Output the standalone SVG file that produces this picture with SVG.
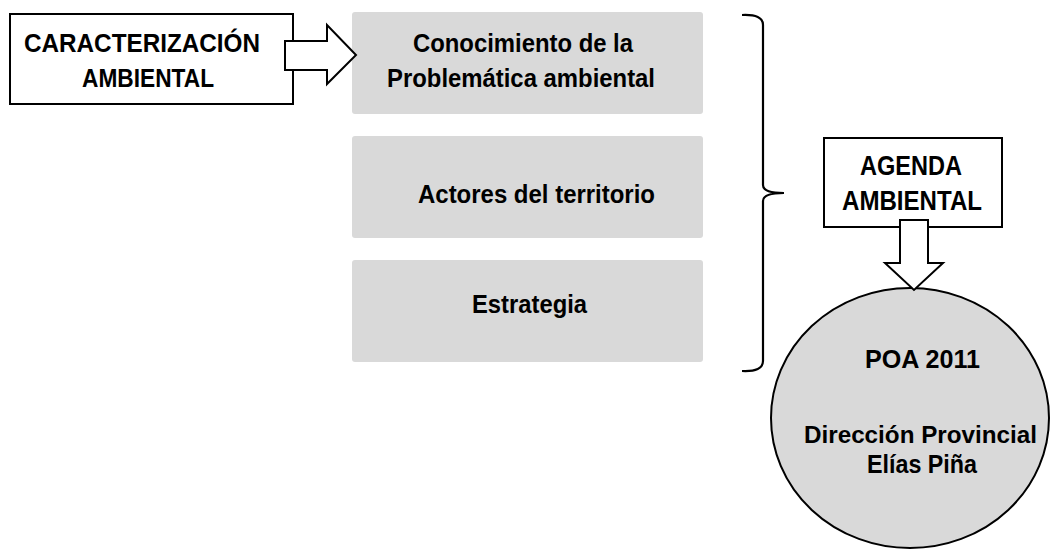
<svg xmlns="http://www.w3.org/2000/svg" width="1050" height="549" viewBox="0 0 1050 549">
<style>
.t{font-family:"Liberation Sans",Arial,sans-serif;font-weight:bold;font-size:26.5px;fill:#000}
.wbox{fill:#fff;stroke:#000;stroke-width:2}
.gbox{fill:#d9d9d9;stroke:none}
.arr{fill:#fff;stroke:#000;stroke-width:2;stroke-linejoin:miter}
</style>
<rect width="1050" height="549" fill="#fff"/>
<g id="caracterizacion">
<rect class="wbox" x="10" y="14" width="283" height="90"/>
<text class="t" x="24" y="52" textLength="236" lengthAdjust="spacingAndGlyphs">CARACTERIZACIÓN</text>
<text class="t" x="82" y="87" textLength="132" lengthAdjust="spacingAndGlyphs">AMBIENTAL</text>
</g>
<g id="conocimiento">
<rect class="gbox" x="352" y="12" width="351" height="102" rx="3"/>
<text class="t" x="413" y="52" textLength="220" lengthAdjust="spacingAndGlyphs">Conocimiento de la</text>
<text class="t" x="387" y="87" textLength="268" lengthAdjust="spacingAndGlyphs">Problemática ambiental</text>
</g>
<g id="actores">
<rect class="gbox" x="352" y="136" width="351" height="102" rx="3"/>
<text class="t" x="418" y="203" textLength="237" lengthAdjust="spacingAndGlyphs">Actores del territorio</text>
</g>
<g id="estrategia">
<rect class="gbox" x="352" y="260" width="351" height="102" rx="3"/>
<text class="t" x="472" y="313" textLength="115" lengthAdjust="spacingAndGlyphs">Estrategia</text>
</g>
<g id="agenda">
<rect class="wbox" x="824" y="138" width="178" height="89"/>
<text class="t" x="860" y="175" textLength="102" lengthAdjust="spacingAndGlyphs" style="font-size:28px">AGENDA</text>
<text class="t" x="842" y="210" textLength="140" lengthAdjust="spacingAndGlyphs" style="font-size:28px">AMBIENTAL</text>
</g>
<g id="poa">
<ellipse cx="910" cy="418" rx="139" ry="130" fill="#d9d9d9" stroke="#000" stroke-width="2"/>
<text class="t" x="865" y="368" textLength="115" lengthAdjust="spacingAndGlyphs">POA 2011</text>
<text class="t" x="804" y="443" textLength="233" lengthAdjust="spacingAndGlyphs" style="font-size:24.3px">Dirección Provincial</text>
<text class="t" x="867" y="473" textLength="110" lengthAdjust="spacingAndGlyphs">Elías Piña</text>
</g>
<g id="connectors">
<path class="arr" d="M285,41 L327,41 L327,25 L356,55 L327,84 L327,70 L285,70 Z"/>
<path class="arr" d="M900,220 L928,220 L928,263 L943,263 L914,290 L885,263 L900,263 Z"/>
<path d="M742,15 Q763,14 763,25 L763,185 Q763,193 784,193 Q763,193 763,201 L763,361 Q763,372 742,371" fill="none" stroke="#000" stroke-width="2.2"/>
</g>
</svg>
